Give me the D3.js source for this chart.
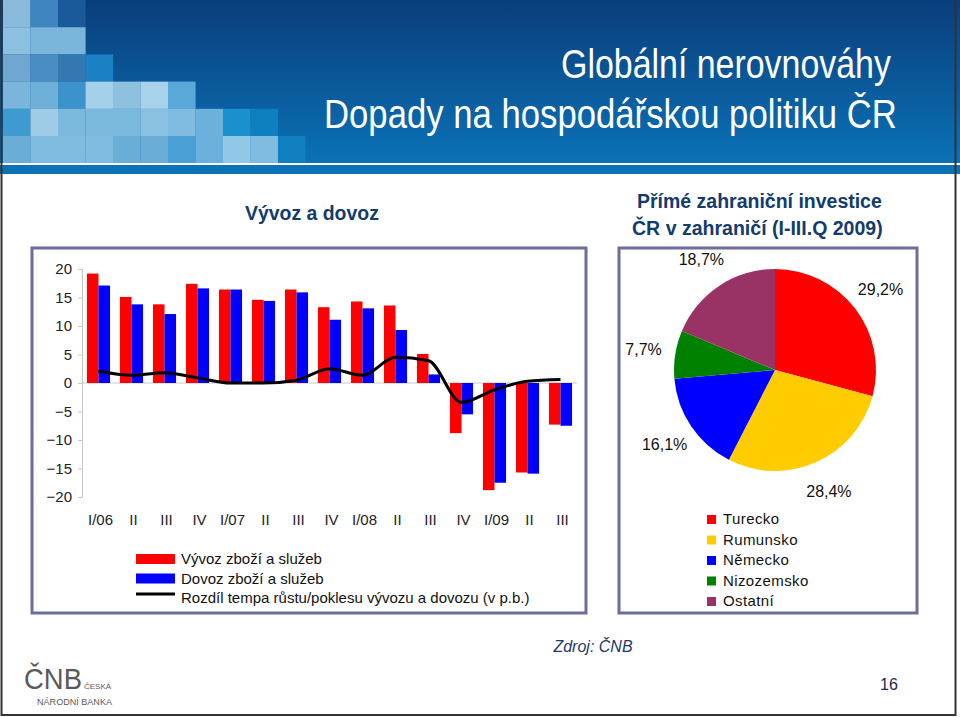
<!DOCTYPE html>
<html>
<head>
<meta charset="utf-8">
<script src="https://cdn.jsdelivr.net/npm/d3@7"></script>
<style>
  body { margin: 0; background: #fff; }
  svg { display: block; font-family: "Liberation Sans", Arial, sans-serif; }
</style>
</head>
<body>
<div id="slide"></div>
<script>
// Bar chart data (Vývoz a dovoz, % y/y)
const quarters = ["I/06", "II", "III", "IV", "I/07", "II", "III", "IV", "I/08", "II", "III", "IV", "I/09", "II", "III"];
const exportsGrowth = [19.2, 15.1, 13.8, 17.4, 16.4, 14.6, 16.4, 13.3, 14.3, 13.6, 5.1, -8.8, -18.8, -15.7, -7.3];
const importsGrowth = [17.1, 13.8, 12.1, 16.6, 16.4, 14.4, 15.9, 11.1, 13.1, 9.3, 1.5, -5.5, -17.5, -15.9, -7.5];
const growthGap = [2.1, 1.35, 1.8, 0.9, 0.0, 0.0, 0.5, 2.5, 1.35, 4.5, 3.9, -3.4, -1.2, 0.3, 0.6];
const yTicks = [20, 15, 10, 5, 0, -5, -10, -15, -20];
const barSeries = ["Vývoz zboží a služeb", "Dovoz zboží a služeb"];
const lineSeries = "Rozdíl tempa růstu/poklesu vývozu a dovozu (v p.b.)";

// Pie chart data (PZI ČR v zahraničí, I-III.Q 2009)
const countries = ["Turecko", "Rumunsko", "Německo", "Nizozemsko", "Ostatní"];
const shares = [29.2, 28.4, 16.1, 7.7, 18.7];
const pieColors = ["#ff0000", "#ffcc00", "#0000ff", "#008000", "#993366"];

const W = 960, H = 718;
const svg = d3.select("#slide").append("svg").attr("width", W).attr("height", H);

// ---- header ----
const defs = svg.append("defs");
const grad = defs.append("linearGradient").attr("id", "hdr").attr("x1", 0).attr("y1", 0).attr("x2", 0).attr("y2", 1);
grad.append("stop").attr("offset", "0%").attr("stop-color", "#0a3e7c");
grad.append("stop").attr("offset", "100%").attr("stop-color", "#0a72b6");
svg.append("rect").attr("x", 0).attr("y", 0).attr("width", W).attr("height", 163).attr("fill", "url(#hdr)");

// decorative mosaic, one row per 27px band
const mosaic = [
  ["#8abbdd", "#3f86c0", "#1a5a9a"],
  ["#8cc0e0", "#7ab5dc", "#7ab5dc"],
  ["#6fa7d0", "#4a8cc4", "#3378b0", "#1a82c4"],
  ["#7ab5db", "#6fb0d8", "#3c93cc", "#a5d0ea", "#8ec0e0", "#a8d2ea", "#5aa8d8"],
  ["#3f9ad0", "#a0cbe6", "#7ab8dc", "#7ab8dc", "#7ab8dc", "#8ac0e0", "#80bce0", "#6cb0dc", "#1a90cc", "#0e80c0"],
  ["#6aaed8", "#80bce0", "#80bce0", "#80bce0", "#6aaed8", "#6aaed8", "#4aa0d4", "#6ab0dc", "#90c8e6", "#80bce0", "#1080c0"]
];
mosaic.forEach((row, r) => {
  row.forEach((c, i) => {
    svg.append("rect")
      .attr("x", 3 + i * 27.5).attr("y", r * 27.2)
      .attr("width", 27.6).attr("height", 27.3)
      .attr("fill", c);
  });
});

svg.append("rect").attr("x", 0).attr("y", 163).attr("width", W).attr("height", 2).attr("fill", "#ffffff");
svg.append("rect").attr("x", 0).attr("y", 165).attr("width", W).attr("height", 9).attr("fill", "#0b72b5");

// no narrow font installed, so squeeze the titles horizontally to the reference widths
function squeezed(xp, yp, len, size, text, bold, color) {
  const t = svg.append("text")
    .style("font-size", size + "px").style("font-weight", bold ? "bold" : "normal")
    .attr("fill", color).text(text);
  const natural = t.node().getComputedTextLength();
  t.attr("transform", "translate(" + xp + "," + yp + ") scale(" + (len / natural) + ",1)");
  return t;
}
squeezed(561, 78, 330, 40, "Globální nerovnováhy", false, "#fff");
squeezed(324, 128, 573, 40, "Dopady na hospodářskou politiku ČR", false, "#fff");

const navy = "#123b6e";
squeezed(245, 220, 134, 21, "Vývoz a dovoz", true, navy);
squeezed(637, 208, 245, 21, "Přímé zahraniční investice", true, navy);
squeezed(632, 235, 251, 21, "ČR v zahraničí (I-III.Q 2009)", true, navy);

// panel frames
const frame = "#6d6d9d";
svg.append("rect").attr("x", 32).attr("y", 248).attr("width", 554).attr("height", 365)
  .attr("fill", "#fff").attr("stroke", frame).attr("stroke-width", 3);
svg.append("rect").attr("x", 619).attr("y", 248).attr("width", 298).attr("height", 365)
  .attr("fill", "#fff").attr("stroke", frame).attr("stroke-width", 3);

// ---- bar chart ----
const x = d3.scaleBand().domain(d3.range(quarters.length))
  .range([82, 577]).paddingInner(0.3).paddingOuter(0.15);
const y = d3.scaleLinear().domain([-20, 20]).range([497, 269]);

const yAxis = svg.append("g").attr("transform", "translate(82,0)")
  .call(d3.axisLeft(y).tickValues(yTicks).tickSize(4).tickPadding(6));
yAxis.select(".domain").attr("stroke", "#c8c8c8");
yAxis.selectAll(".tick line").attr("stroke", "#c8c8c8");
yAxis.selectAll("text").style("font-size", "15px").attr("fill", "#222")
  .style("font-family", "'Liberation Sans', Arial, sans-serif");

// zero line
svg.append("line").attr("x1", 82).attr("x2", 577).attr("y1", y(0)).attr("y2", y(0))
  .attr("stroke", "#c8c8c8").attr("stroke-width", 1);

const half = x.bandwidth() / 2;
svg.append("g").selectAll("rect.ex").data(exportsGrowth).join("rect")
  .attr("x", (d, i) => x(i)).attr("width", half)
  .attr("y", d => y(Math.max(0, d))).attr("height", d => Math.abs(y(d) - y(0)))
  .attr("fill", "#ff0000");
svg.append("g").selectAll("rect.im").data(importsGrowth).join("rect")
  .attr("x", (d, i) => x(i) + half).attr("width", half)
  .attr("y", d => y(Math.max(0, d))).attr("height", d => Math.abs(y(d) - y(0)))
  .attr("fill", "#0000ff");

const line = d3.line()
  .x((d, i) => x(i) + half)
  .y(d => y(d))
  .curve(d3.curveMonotoneX);
svg.append("path").datum(growthGap).attr("d", line)
  .attr("fill", "none").attr("stroke", "#000").attr("stroke-width", 3);

// category labels
svg.append("g").selectAll("text").data(quarters).join("text")
  .attr("x", (d, i) => x(i) + half + 2).attr("y", 525)
  .attr("text-anchor", "middle")
  .style("font-size", "15px").attr("fill", "#222")
  .text(d => d);

// bar chart legend
const lg = svg.append("g").attr("transform", "translate(136,554)");
[0, 1].forEach(i => {
  lg.append("rect").attr("x", 0).attr("y", i * 19.5).attr("width", 39).attr("height", 10)
    .attr("fill", i === 0 ? "#ff0000" : "#0000ff");
  lg.append("text").attr("x", 45).attr("y", i * 19.5 + 10).style("font-size", "15px").attr("fill", "#111")
    .text(barSeries[i]);
});
lg.append("line").attr("x1", 0).attr("x2", 39).attr("y1", 40).attr("y2", 40)
  .attr("stroke", "#000").attr("stroke-width", 3);
lg.append("text").attr("x", 45).attr("y", 49).style("font-size", "15px").attr("fill", "#111")
  .text(lineSeries);

// ---- pie chart ----
const pieG = svg.append("g").attr("transform", "translate(775,370)");
const pie = d3.pie().sort(null).value(d => d);
const arcs = pie(shares);
const arc = d3.arc().innerRadius(0).outerRadius(101);
const labelArc = d3.arc().innerRadius(133).outerRadius(133);
pieG.selectAll("path").data(arcs).join("path")
  .attr("d", arc).attr("fill", (d, i) => pieColors[i]);
pieG.selectAll("text").data(arcs).join("text")
  .attr("transform", d => "translate(" + labelArc.centroid(d) + ")")
  .attr("text-anchor", "middle").attr("dy", "0.35em")
  .style("font-size", "16px").attr("fill", "#111")
  .text(d => d.data.toFixed(1).replace(".", ",") + "%");

// pie legend
const pl = svg.append("g").attr("transform", "translate(707,515)");
countries.forEach((c, i) => {
  pl.append("rect").attr("x", 0).attr("y", i * 20.5).attr("width", 9).attr("height", 9).attr("fill", pieColors[i]);
  pl.append("text").attr("x", 16).attr("y", i * 20.5 + 9).style("font-size", "15px")
    .style("letter-spacing", "0.4px").attr("fill", "#111").text(c);
});

// ---- footer ----
svg.append("text").attr("x", 593).attr("y", 652).attr("text-anchor", "middle")
  .style("font-size", "16px").style("font-style", "italic").attr("fill", "#1c3a6a")
  .text("Zdroj: ČNB");
svg.append("text").attr("x", 889).attr("y", 690).attr("text-anchor", "middle")
  .style("font-size", "16px").attr("fill", "#1a2a4a").text("16");

// logo
const logo = svg.append("g").attr("fill", "#5a5a5a");
logo.append("text").attr("x", 24).attr("y", 689)
  .attr("textLength", 58).attr("lengthAdjust", "spacingAndGlyphs")
  .style("font-size", "29px").text("ČNB");
logo.append("text").attr("x", 84).attr("y", 689).style("font-size", "8px").text("ČESKÁ");
logo.append("text").attr("x", 37).attr("y", 705)
  .attr("textLength", 75).attr("lengthAdjust", "spacingAndGlyphs")
  .style("font-size", "9px").text("NÁRODNÍ BANKA");

// slide border
svg.append("rect").attr("x", 1.5).attr("y", -2).attr("width", 954).attr("height", 717)
  .attr("fill", "none").attr("stroke", "#333").attr("stroke-width", 2);
</script>
</body>
</html>
